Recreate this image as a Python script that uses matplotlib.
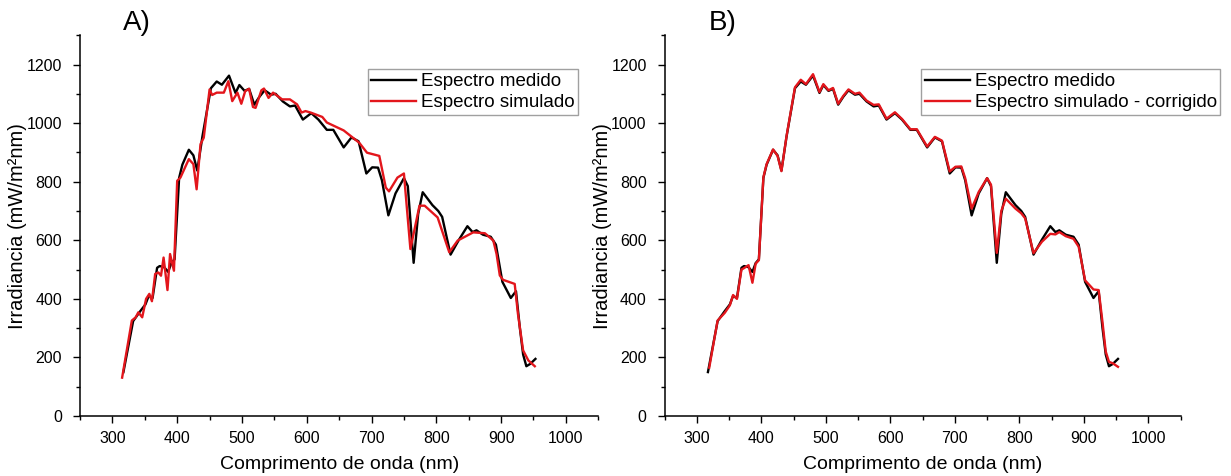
import matplotlib
matplotlib.use("Agg")
import matplotlib.pyplot as plt
from matplotlib.ticker import MultipleLocator

plt.rcParams['font.family'] = ['Liberation Sans', 'DejaVu Sans']

# Measured spectrum (black) - same in both panels
wl_medido = [317, 332, 343, 351, 356, 362, 369, 373, 380, 386, 391, 396, 403, 408, 418, 425,
             431, 439, 452, 461, 469, 480, 490, 496, 504, 511, 519, 527, 535, 545, 552, 563,
             574, 582, 594, 607, 618, 631, 641, 657, 669, 680, 692, 701, 710, 716, 726, 737,
             750, 756, 765, 772, 779, 794, 803, 809, 822, 835, 848, 856, 862, 872, 884, 892,
             902, 915, 923, 929, 934, 939, 945, 953]
irr_medido = [150, 324, 358, 381, 410, 403, 506, 512, 508, 492, 522, 535, 813, 858, 909, 890,
              838, 955, 1119, 1142, 1131, 1162, 1103, 1130, 1110, 1117, 1063, 1090, 1112, 1097, 1100, 1074,
              1057, 1060, 1012, 1034, 1012, 977, 977, 917, 951, 938, 828, 849, 848, 805, 685, 760,
              812, 785, 523, 690, 764, 720, 700, 680, 551, 602, 648, 628, 634, 619, 612, 585,
              458, 403, 426, 300, 210, 170, 178, 195]

# Simulated spectrum (red, panel A)
wl_simulado = [315, 330, 336, 340, 346, 352, 357, 361, 366, 371, 375, 379, 385, 389, 395, 400,
               405, 418, 425, 430, 436, 441, 450, 454, 461, 472, 479, 485, 493, 499, 505, 511,
               517, 521, 530, 534, 541, 548, 562, 574, 585, 592, 598, 606, 624, 631, 657, 681,
               693, 712, 722, 727, 740, 750, 760, 774, 782, 802, 820, 833, 857, 875, 888, 893,
               898, 903, 921, 926, 934, 942, 952]
irr_simulado = [131, 326, 337, 354, 337, 400, 417, 392, 485, 490, 479, 541, 430, 553, 496, 803,
                814, 877, 860, 774, 928, 950, 1115, 1096, 1104, 1104, 1143, 1075, 1104, 1066, 1109, 1117,
                1055, 1052, 1112, 1118, 1086, 1104, 1081, 1081, 1064, 1036, 1041, 1036, 1021, 1002, 975, 933,
                899, 888, 780, 767, 814, 828, 570, 718, 718, 678, 559, 599, 627, 624, 599, 553,
                480, 465, 451, 349, 224, 190, 170]

# Corrected simulated spectrum (red, panel B)
wl_corrigido = [319, 332, 343, 351, 356, 362, 369, 373, 380, 386, 391, 396, 403, 408, 418, 425,
                431, 439, 452, 461, 469, 480, 490, 496, 504, 511, 519, 527, 535, 545, 552, 563,
                574, 582, 594, 607, 618, 631, 641, 657, 669, 680, 692, 701, 710, 716, 726, 737,
                750, 756, 765, 772, 779, 794, 803, 809, 822, 835, 848, 856, 862, 872, 884, 892,
                902, 915, 923, 929, 934, 939, 945, 953]
irr_corrigido = [165, 326, 352, 378, 413, 400, 500, 505, 515, 455, 520, 532, 815, 860, 910, 888,
                 836, 957, 1122, 1148, 1133, 1167, 1106, 1133, 1112, 1120, 1066, 1093, 1115, 1100, 1104, 1077,
                 1062, 1064, 1015, 1037, 1014, 979, 979, 920, 953, 940, 835, 851, 852, 812, 708, 765,
                 812, 790, 557, 700, 742, 708, 692, 675, 556, 595, 622, 620, 628, 614, 605, 578,
                 463, 432, 430, 320, 220, 185, 180, 168]

xticks = [300, 400, 500, 600, 700, 800, 900, 1000]
yticks = [0, 200, 400, 600, 800, 1000, 1200]

fig = plt.figure(figsize=(12.31, 4.76), dpi=100)
axA = fig.add_axes([0.065, 0.126, 0.421, 0.800])
axB = fig.add_axes([0.540, 0.126, 0.419, 0.800])

panels = [
    (axA, wl_simulado, irr_simulado, "Espectro simulado", "A)", 0.555),
    (axB, wl_corrigido, irr_corrigido, "Espectro simulado - corrigido", "B)", 0.497),
]

for ax, wl_s, irr_s, lab_s, title, lx in panels:
    ax.plot(wl_medido, irr_medido, color="black", lw=1.7, label="Espectro medido")
    ax.plot(wl_s, irr_s, color="#e3161c", lw=1.7, label=lab_s)
    ax.set_xlim(250, 1050)
    ax.set_ylim(0, 1300)
    ax.set_xticks(xticks)
    ax.set_yticks(yticks)
    ax.xaxis.set_minor_locator(MultipleLocator(50))
    ax.yaxis.set_minor_locator(MultipleLocator(100))
    ax.tick_params(which="major", direction="out", length=5, width=1, labelsize=11.5)
    ax.tick_params(axis="x", which="major", pad=6)
    ax.tick_params(axis="y", which="major", pad=8)
    ax.tick_params(which="minor", direction="out", length=3, width=1)
    for s in ["top", "right"]:
        ax.spines[s].set_visible(False)
    for s in ["left", "bottom"]:
        ax.spines[s].set_linewidth(1.1)
    ax.set_xlabel("Comprimento de onda (nm)", fontsize=14)
    ax.set_ylabel("Irradiancia (mW/m²nm)", fontsize=14.5)
    ax.xaxis.set_label_coords(0.5, -0.105)
    ax.yaxis.set_label_coords(-0.102, 0.5)
    leg = ax.legend(loc="upper left", bbox_to_anchor=(lx, 0.91), fontsize=13.5,
                    frameon=True, fancybox=False, borderpad=0.2, handlelength=2.4,
                    handletextpad=0.25, labelspacing=0.2, borderaxespad=0)
    leg.get_frame().set_edgecolor("#888888")
    leg.get_frame().set_linewidth(1.0)

fig.text(0.100, 0.925, "A)", fontsize=20, ha="left", va="bottom")
fig.text(0.576, 0.925, "B)", fontsize=20, ha="left", va="bottom")

fig.savefig("out.png", dpi=100)
